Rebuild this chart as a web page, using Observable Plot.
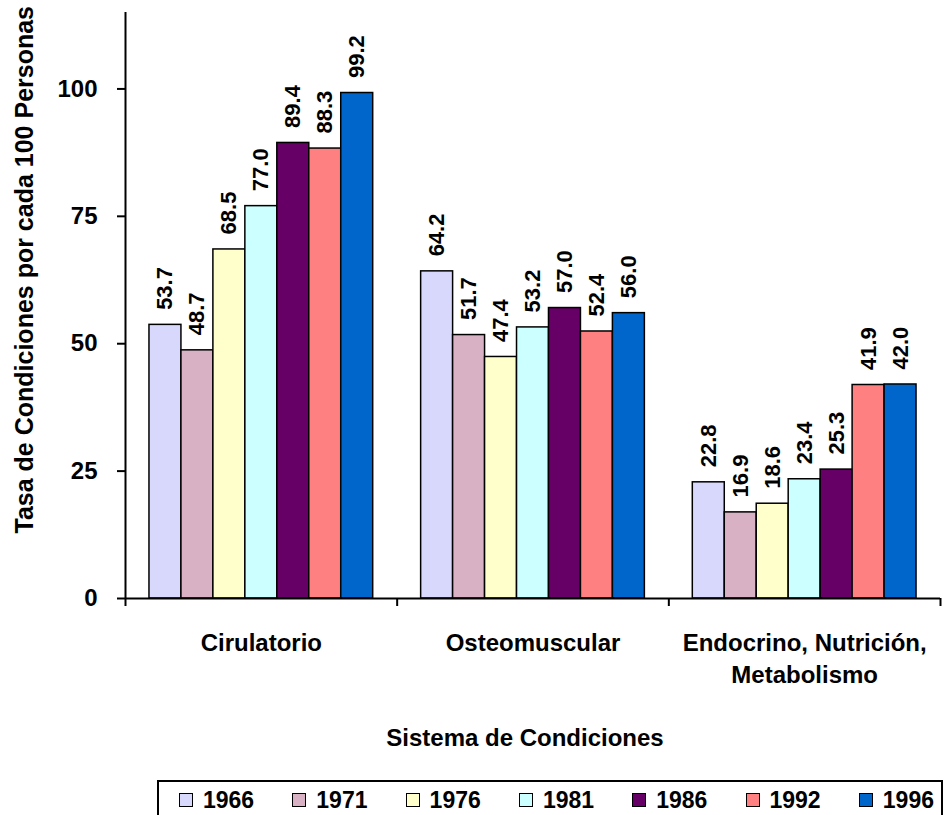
<!DOCTYPE html>
<html><head><meta charset="utf-8">
<script src="https://cdn.jsdelivr.net/npm/d3@7"></script>
<script src="https://cdn.jsdelivr.net/npm/@observablehq/plot@0.6"></script>
<style>
html,body{margin:0;padding:0;background:#fff;}
body{width:947px;height:815px;position:relative;overflow:hidden;font-family:"Liberation Sans",Arial,sans-serif;}
#legend{position:absolute;left:157px;top:780px;width:786px;height:42px;border:2px solid #000;box-sizing:border-box;}
#legend .item{position:absolute;top:0;height:38px;display:flex;align-items:center;font-weight:bold;font-size:23px;color:#000;padding-bottom:2px;box-sizing:border-box;}
#legend .sw{width:12px;height:12px;border:1px solid #000;margin-right:10px;}
</style></head><body>
<div id="chart"></div>
<div id="legend"></div>
<script>
const categories = ["Cirulatorio", "Osteomuscular", "Endocrino, Nutrición,\nMetabolismo"];
const years = ["1966", "1971", "1976", "1981", "1986", "1992", "1996"];
const circulatorio = [53.7, 48.7, 68.5, 77.0, 89.4, 88.3, 99.2];
const osteomuscular = [64.2, 51.7, 47.4, 53.2, 57.0, 52.4, 56.0];
const endocrino = [22.8, 16.9, 18.6, 23.4, 25.3, 41.9, 42.0];
const colors = ["#D8D8FC", "#D8B2C4", "#FFFFCC", "#CCFFFF", "#660066", "#FF8080", "#0066CC"];
const yTicks = [0, 25, 50, 75, 100];
const yTitle = "Tasa de Condiciones por cada 100 Personas";
const xTitle = "Sistema de Condiciones";

const series = [circulatorio, osteomuscular, endocrino];
const slots = years.length + 1.5; // 0.75 bar-width outer padding each side
const data = categories.flatMap((c, i) => years.map((yr, j) => {
  const x1 = i + (0.75 + j) / slots;
  return {category: c, year: yr, value: series[i][j], x1, x2: x1 + 1 / slots, xm: x1 + 0.5 / slots};
}));

const chart = Plot.plot({
  width: 947, height: 772,
  marginLeft: 125, marginRight: 7, marginTop: 12, marginBottom: 174,
  style: {fontFamily: "'Liberation Sans', Arial, sans-serif", fontWeight: "bold", color: "#000", background: "#fff"},
  x: {domain: [0, categories.length]},
  y: {domain: [0, 115]},
  color: {domain: years, range: colors},
  marks: [
    Plot.rectY(data, {x1: "x1", x2: "x2", y: "value", fill: "year", stroke: "#000", strokeWidth: 1.5}),
    Plot.text(data, {x: "xm", y: "value", text: d => d.value.toFixed(1), rotate: -90, textAnchor: "start", dy: -15, fontSize: 22, fontWeight: "bold", fill: "#000"}),
    Plot.axisY({ticks: yTicks, tickSize: 8, tickPadding: 20, fontSize: 24, fontWeight: "bold", label: null, strokeWidth: 2}),
    Plot.axisX({ticks: d3.range(categories.length + 1), tickFormat: () => "", tickSize: 8, label: null, strokeWidth: 2}),
    Plot.ruleX([0], {stroke: "#000", strokeWidth: 2}),
    Plot.ruleY([0], {stroke: "#000", strokeWidth: 2}),
    Plot.text(categories, {x: (d, i) => i + 0.5, frameAnchor: "bottom", lineAnchor: "top", dy: 29, lineHeight: 1.36, fontSize: 24, fontWeight: "bold", fill: "#000"}),
    Plot.text([xTitle], {frameAnchor: "bottom", lineAnchor: "top", dy: 130, dx: -8, fontSize: 24, fontWeight: "bold", fill: "#000"}),
    Plot.text([yTitle], {frameAnchor: "bottom-left", rotate: -90, textAnchor: "start", lineAnchor: "top", dx: -110, dy: -65, fontSize: 25, fontWeight: "bold", fill: "#000"})
  ]
});
document.getElementById("chart").appendChild(chart);

const legend = document.getElementById("legend");
years.forEach((yr, i) => {
  const item = document.createElement("div");
  item.className = "item";
  item.style.left = (20 + i * 113.3) + "px";
  const sw = document.createElement("div");
  sw.className = "sw";
  sw.style.background = colors[i];
  const t = document.createElement("span");
  t.textContent = yr;
  item.appendChild(sw);
  item.appendChild(t);
  legend.appendChild(item);
});
</script>
</body></html>
